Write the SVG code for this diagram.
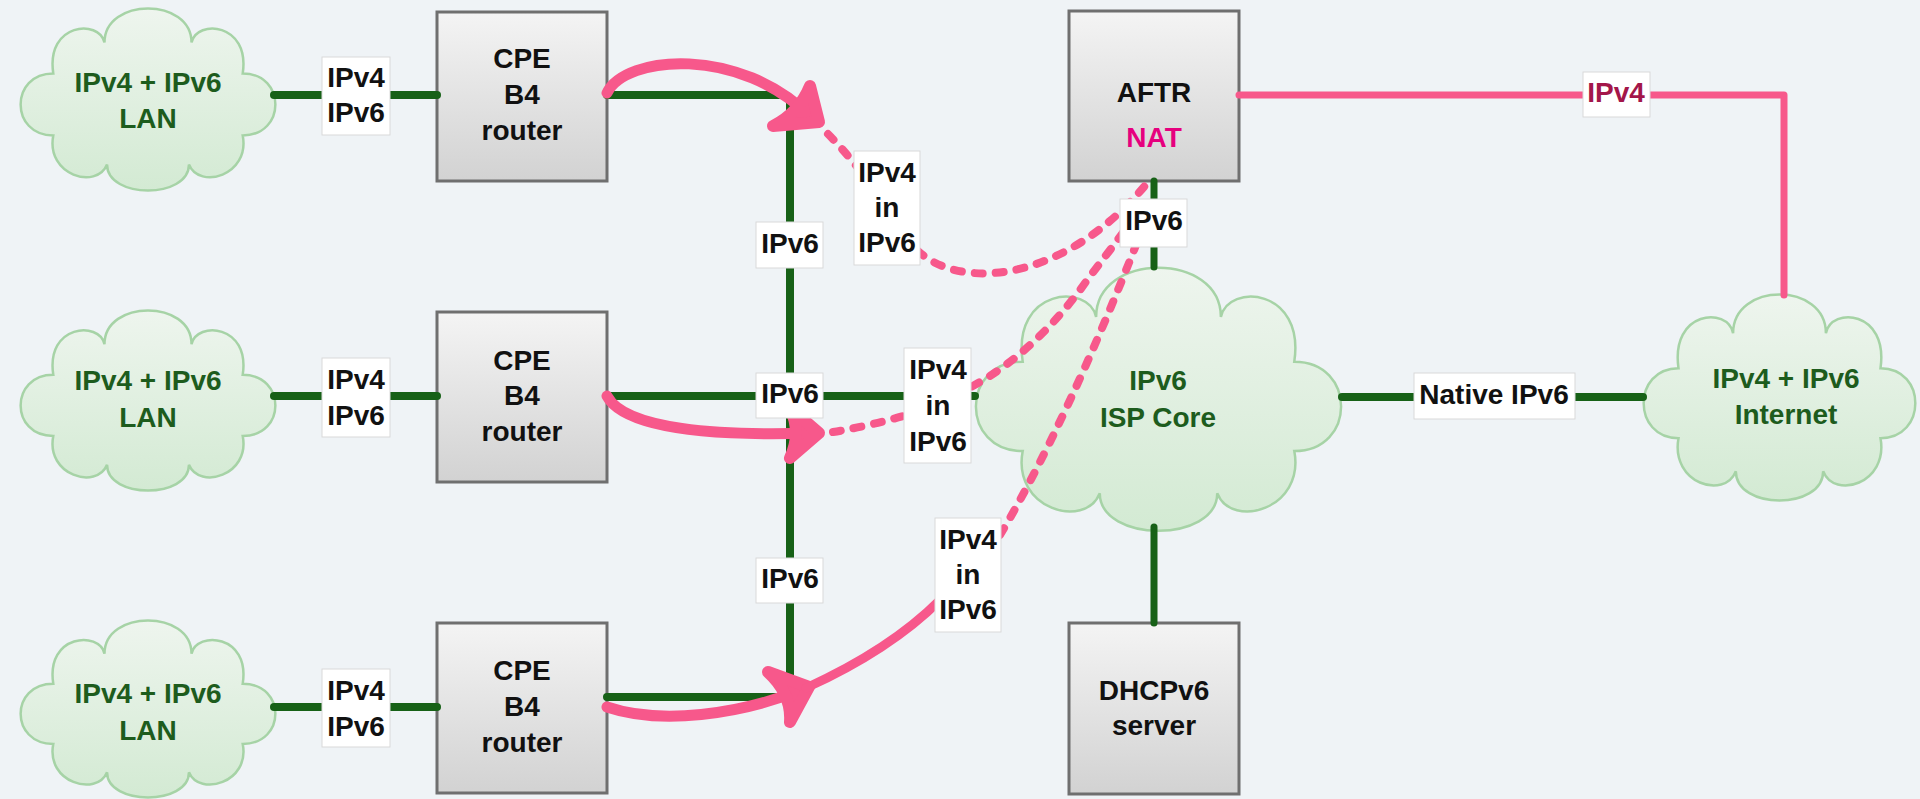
<svg xmlns="http://www.w3.org/2000/svg" width="1920" height="799" viewBox="0 0 1920 799">
<defs>
<linearGradient id="boxGrad" x1="0" y1="0" x2="0" y2="1">
<stop offset="0" stop-color="#f4f4f4"/>
<stop offset="1" stop-color="#d2d2d2"/>
</linearGradient>
<linearGradient id="cloudGrad" x1="0" y1="0" x2="0" y2="1">
<stop offset="0" stop-color="#eef5ee"/>
<stop offset="1" stop-color="#d3ead3"/>
</linearGradient>
<style>
.bg{fill:#eff3f6}
.box{fill:url(#boxGrad);stroke:#6f6f6f;stroke-width:3}
.cloud{fill:url(#cloudGrad);stroke:#a6d3a6;stroke-width:2.5}
.t{font-family:"Liberation Sans",Arial,sans-serif;font-size:28px;font-weight:bold;text-anchor:middle;fill:#111}
.ct{fill:#1d5c1d}
.nat{fill:#e6007e}
.pt{fill:#a3164a}
.lbl{fill:#ffffff;stroke:#d9d9d9;stroke-width:1}
.g{fill:none;stroke:#176117;stroke-width:7;stroke-linecap:round;stroke-linejoin:round}
.g8{stroke-width:8}
.p{fill:none;stroke:#f7588b;stroke-width:7;stroke-linecap:round;stroke-linejoin:round}
.pa{stroke-width:11}
.ah{fill:#f7588b;stroke:#f7588b;stroke-width:12;stroke-linejoin:round;stroke-linecap:round}
.pd{stroke-width:8;stroke-dasharray:8 13}
</style>
</defs>
<rect class="bg" x="0" y="0" width="1920" height="799"/>

<g id="lan1">
<path class="cloud" vector-effect="non-scaling-stroke" transform="translate(20,8) scale(2.56,1.82)" d="M33 19 C33 -6 67 -6 67 19 C69 6 90 8 87 36 C104 36 104 70 87 70 C90 92 70 100 66 86 C66 105 34 105 34 86 C30 100 10 92 13 70 C-4 70 -4 36 13 36 C10 8 31 6 33 19 Z"/>
<text class="t ct" x="148" y="92">IPv4 + IPv6</text>
<text class="t ct" x="148" y="128">LAN</text>
</g>
<g id="lan2">
<path class="cloud" vector-effect="non-scaling-stroke" transform="translate(20,310) scale(2.56,1.80)" d="M33 19 C33 -6 67 -6 67 19 C69 6 90 8 87 36 C104 36 104 70 87 70 C90 92 70 100 66 86 C66 105 34 105 34 86 C30 100 10 92 13 70 C-4 70 -4 36 13 36 C10 8 31 6 33 19 Z"/>
<text class="t ct" x="148" y="390">IPv4 + IPv6</text>
<text class="t ct" x="148" y="427">LAN</text>
</g>
<g id="lan3">
<path class="cloud" vector-effect="non-scaling-stroke" transform="translate(20,620) scale(2.56,1.77)" d="M33 19 C33 -6 67 -6 67 19 C69 6 90 8 87 36 C104 36 104 70 87 70 C90 92 70 100 66 86 C66 105 34 105 34 86 C30 100 10 92 13 70 C-4 70 -4 36 13 36 C10 8 31 6 33 19 Z"/>
<text class="t ct" x="148" y="703">IPv4 + IPv6</text>
<text class="t ct" x="148" y="740">LAN</text>
</g>

<g id="cpe1">
<rect class="box" x="437" y="12" width="170" height="169"/>
<text class="t" x="522" y="68">CPE</text>
<text class="t" x="522" y="104">B4</text>
<text class="t" x="522" y="140">router</text>
</g>
<g id="cpe2">
<rect class="box" x="437" y="312" width="170" height="170"/>
<text class="t" x="522" y="370">CPE</text>
<text class="t" x="522" y="405">B4</text>
<text class="t" x="522" y="441">router</text>
</g>
<g id="cpe3">
<rect class="box" x="437" y="623" width="170" height="170"/>
<text class="t" x="522" y="680">CPE</text>
<text class="t" x="522" y="716">B4</text>
<text class="t" x="522" y="752">router</text>
</g>

<g id="aftr">
<rect class="box" x="1069" y="11" width="170" height="170"/>
<text class="t" x="1154" y="102">AFTR</text>
<text class="t nat" x="1154" y="147">NAT</text>
</g>
<g id="dhcpv6">
<rect class="box" x="1069" y="623" width="170" height="171"/>
<text class="t" x="1154" y="700">DHCPv6</text>
<text class="t" x="1154" y="735">server</text>
</g>

<g id="isp-core">
<path class="cloud" vector-effect="non-scaling-stroke" transform="translate(975,267) scale(3.67,2.63)" d="M33 19 C33 -6 67 -6 67 19 C69 6 90 8 87 36 C104 36 104 70 87 70 C90 92 70 100 66 86 C66 105 34 105 34 86 C30 100 10 92 13 70 C-4 70 -4 36 13 36 C10 8 31 6 33 19 Z"/>
<text class="t ct" x="1158" y="390">IPv6</text>
<text class="t ct" x="1158" y="427">ISP Core</text>
</g>
<g id="internet">
<path class="cloud" vector-effect="non-scaling-stroke" transform="translate(1643,294) scale(2.73,2.06)" d="M33 19 C33 -6 67 -6 67 19 C69 6 90 8 87 36 C104 36 104 70 87 70 C90 92 70 100 66 86 C66 105 34 105 34 86 C30 100 10 92 13 70 C-4 70 -4 36 13 36 C10 8 31 6 33 19 Z"/>
<text class="t ct" x="1786" y="388">IPv4 + IPv6</text>
<text class="t ct" x="1786" y="424">Internet</text>
</g>

<g id="connectors">
<path class="g g8" d="M274 95 L437 95"/>
<path class="g g8" d="M274 396 L437 396"/>
<path class="g g8" d="M274 707 L437 707"/>
<path class="g g8" d="M607 95 L782 95 Q790 95 790 103 L790 689 Q790 697 782 697 L607 697"/>
<path class="g g8" d="M607 396 L975 396"/>
<path class="g" d="M1154 181 L1154 267"/>
<path class="g" d="M1154 527 L1154 623"/>
<path class="g g8" d="M1342 397 L1643 397"/>
<path class="p" d="M1239 95 L1784 95 L1784 295"/>

<path class="p pa" d="M607 93 C625 55 740 45 812 118"/>
<path class="ah" d="M810 86 L819 122 L773 126 Q799 113 810 86 Z"/>
<path class="p pd" d="M828 134 C852 158 880 195 905 235 C940 295 1060 290 1148 182"/>

<path class="p pa" d="M607 396 C625 430 720 436 812 433"/>
<path class="ah" d="M790 408 L819 433 L790 458 Q802 433 790 408 Z"/>
<path class="p pd" d="M833 432 Q870 426 910 414 L965 390 C1010 368 1050 330 1080 290 C1100 262 1115 245 1128 225"/>

<path class="p pa" d="M607 707 C660 725 740 715 803 689"/>
<path class="ah" d="M768 672 L809 687 L790 722 Q792 694 768 672 Z"/>
<path class="p" style="stroke-width:9" d="M806 688 C850 668 900 640 940 600"/>
<path class="p pd" d="M1000 535 C1045 460 1095 350 1138 240"/>

<rect class="lbl" x="322" y="57" width="68" height="78"/>
<text class="t" x="356" y="87">IPv4</text>
<text class="t" x="356" y="122">IPv6</text>
<rect class="lbl" x="322" y="358" width="68" height="79"/>
<text class="t" x="356" y="389">IPv4</text>
<text class="t" x="356" y="425">IPv6</text>
<rect class="lbl" x="322" y="669" width="68" height="78"/>
<text class="t" x="356" y="700">IPv4</text>
<text class="t" x="356" y="736">IPv6</text>

<rect class="lbl" x="756" y="222" width="67" height="46"/>
<text class="t" x="790" y="253">IPv6</text>
<rect class="lbl" x="756" y="373" width="67" height="45"/>
<text class="t" x="790" y="403">IPv6</text>
<rect class="lbl" x="756" y="558" width="67" height="45"/>
<text class="t" x="790" y="588">IPv6</text>

<rect class="lbl" x="854" y="151" width="66" height="114"/>
<text class="t" x="887" y="182">IPv4</text>
<text class="t" x="887" y="217">in</text>
<text class="t" x="887" y="252">IPv6</text>
<rect class="lbl" x="904" y="348" width="67" height="115"/>
<text class="t" x="938" y="379">IPv4</text>
<text class="t" x="938" y="415">in</text>
<text class="t" x="938" y="451">IPv6</text>
<rect class="lbl" x="935" y="518" width="66" height="114"/>
<text class="t" x="968" y="549">IPv4</text>
<text class="t" x="968" y="584">in</text>
<text class="t" x="968" y="619">IPv6</text>

<rect class="lbl" x="1120" y="199" width="67" height="48"/>
<text class="t" x="1154" y="230">IPv6</text>
<rect class="lbl" x="1414" y="373" width="161" height="46"/>
<text class="t" x="1494" y="404">Native IPv6</text>
<rect class="lbl" x="1583" y="72" width="67" height="45"/>
<text class="t pt" x="1616" y="102">IPv4</text>
</g>
</svg>
